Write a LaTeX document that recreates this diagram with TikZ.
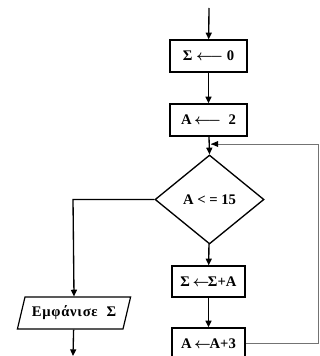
\documentclass[tikz,border=0pt]{standalone}
\usepackage{fontspec}
\setmainfont{Liberation Serif}
\usetikzlibrary{shapes.geometric,arrows.meta}
\begin{document}
\begin{tikzpicture}[x=0.75pt,y=-0.75pt,
  font=\fontsize{11}{13}\selectfont\bfseries\boldmath,
  tip/.style={-{Triangle[length=5pt,width=4.5pt]}},
  flow/.style={line width=1pt,tip},
  stepbox/.style={draw,line width=1pt,minimum width=57.75pt,minimum height=24pt,inner sep=0pt},
  decision/.style={draw,diamond,line width=1pt,minimum width=81.75pt,minimum height=66.75pt,inner sep=0pt},
  iobox/.style={draw,trapezium,trapezium left angle=65,trapezium right angle=115,trapezium stretches=true,line width=0.9pt,minimum width=85.5pt,minimum height=24pt,inner sep=0pt},
  loopline/.style={draw=black!55,line width=0.6pt}]
\useasboundingbox (0,0) rectangle (320,356);
\coordinate (start) at (209,8);
\node[stepbox] (s0) at (208.5,56) {Σ\ $\longleftarrow$\ 0};
\node[stepbox] (a2) at (208.5,120) {A\,$\longleftarrow$\ \ 2};
\coordinate (join) at (209,144);
\node[decision] (dec) at (209.5,199.5) {A\ <\ =\ 15};
\node[stepbox,minimum width=54.75pt,minimum height=23.25pt] (sa) at (208.5,281.5) {Σ\,$\leftarrow$\kern-1ptΣ+A};
\node[stepbox,minimum width=54.75pt,minimum height=23.25pt] (aa) at (208.5,343.5) {A\,$\leftarrow$\kern-1ptA+3};
\node[iobox] (out) at (74,313) {\addfontfeature{LetterSpace=5}Εμφάνισε\ \ Σ};
\coordinate (end) at (73,356);
\coordinate (corner1) at (318,343.5);
\coordinate (corner2) at (318,144);
\coordinate (left) at (73,199.5);

\draw[flow] (start) -- (s0);
\draw[flow] (s0) -- (a2);
\draw[flow] (a2) -- (dec.north);
\draw[flow] (dec) -- (sa);
\draw[flow] (sa) -- (aa);
\draw[loopline] (aa.east) -- (corner1) -- (corner2) -- ([xshift=1.5pt]join);
\fill ([xshift=1.5pt]join) -- ++(7,-3) -- ++(0,6) -- cycle;
\draw[flow] (dec.west) -- (left) -- (out.north);
\draw[flow] (out) -- (end);
\end{tikzpicture}
\end{document}
